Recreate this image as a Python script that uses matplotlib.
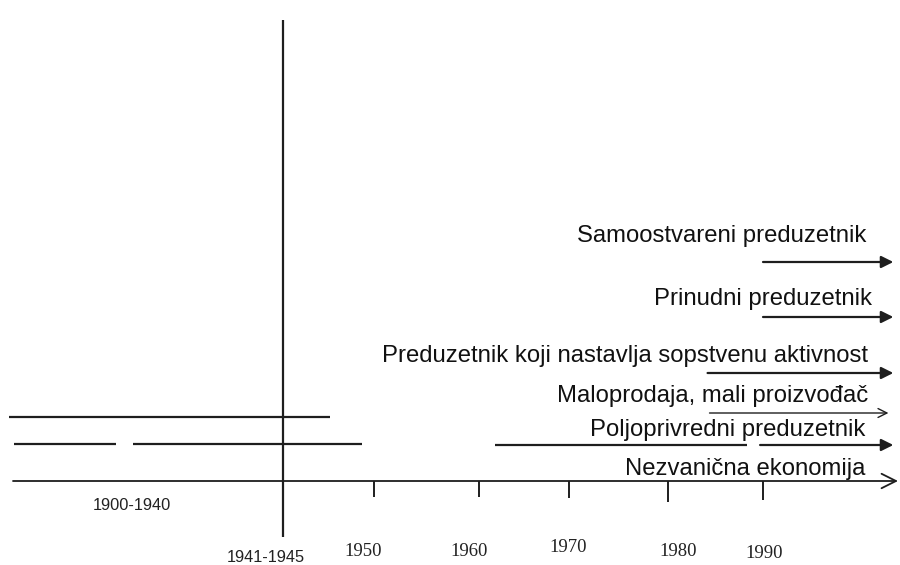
import matplotlib
matplotlib.use("Agg")
import matplotlib.pyplot as plt

# ---- data (timeline in years) ----
categories = ["Samoostvareni preduzetnik", "Prinudni preduzetnik",
              "Preduzetnik koji nastavlja sopstvenu aktivnost",
              "Maloprodaja, mali proizvođač", "Poljoprivredni preduzetnik",
              "Nezvanična ekonomija"]
arrow_start = [1990.0, 1990.0, 1984.3, 1984.5, 1962.4]
arrow_end = [2003.4, 2003.4, 2003.4, 2002.9, 2003.4]
polj_gap = [1988.4, 1989.7]
prewar_line1 = [1912.5, 1945.5]
prewar_line2 = [[1913.0, 1923.5], [1925.2, 1948.8]]
war_year = 1940.6
tick_years = [1950.0, 1960.8, 1970.0, 1980.2, 1990.0]
tick_labels = ["1950", "1960", "1970", "1980", "1990"]
period_labels = ["1900-1940", "1941-1945"]

# ---- layout ----
PX = 9.725  # pixels per year
def yr(px):
    return 1950 + (px - 374) / PX

fig = plt.figure(figsize=(9, 5.65), dpi=100)
ax = fig.add_axes([0, 0, 1, 1])
ax.set_xlim(yr(0), yr(900))
ax.set_ylim(565, 0)
ax.axis("off")

col = "#1e1e1e"
lw = 1.6
sans = ["Liberation Sans", "DejaVu Sans"]
serif = ["Liberation Serif", "DejaVu Serif"]

# main axis line with open arrow head
axis_y = 481
ax.annotate("", xy=(yr(898), axis_y), xytext=(yr(13), axis_y),
            arrowprops=dict(arrowstyle="->", color=col, lw=1.3,
                            mutation_scale=26, shrinkA=0, shrinkB=0))

# vertical war line
ax.plot([war_year, war_year], [20, 537], color=col, lw=lw, solid_capstyle="butt")

# ticks
tick_len = [16, 16, 17, 21, 19]
for t, L in zip(tick_years, tick_len):
    ax.plot([t, t], [axis_y, axis_y + L], color=col, lw=1.4, solid_capstyle="butt")

label_x = [363, 469, 568, 678, 764]
label_y = [551, 551, 547, 552, 553]
for lab, lx, ly in zip(tick_labels, label_x, label_y):
    ax.text(yr(lx), ly, lab, ha="center", va="center", fontsize=13.5,
            family=serif, color="#222222")

ax.text(yr(132), 505, period_labels[0], ha="center", va="center",
        fontsize=11.8, family=sans, color="#222222")
ax.text(yr(266), 557, period_labels[1], ha="center", va="center",
        fontsize=11.8, family=sans, color="#222222")

# pre-war lines
ax.plot(prewar_line1, [417, 417], color=col, lw=lw, solid_capstyle="butt")
for seg in prewar_line2:
    ax.plot(seg, [444, 444], color=col, lw=lw, solid_capstyle="butt")

# category arrows
arrow_rows = [262, 317, 373, 413, 445]
for i, (s, e, yrow) in enumerate(zip(arrow_start, arrow_end, arrow_rows)):
    if i == 3:
        ax.annotate("", xy=(e, yrow), xytext=(s, yrow),
                    arrowprops=dict(arrowstyle="->", color=col, lw=1.0,
                                    mutation_scale=16, shrinkA=0, shrinkB=0))
    elif i == 4:
        ax.plot([s, polj_gap[0]], [yrow, yrow], color=col, lw=lw, solid_capstyle="butt")
        ax.annotate("", xy=(e, yrow), xytext=(polj_gap[1], yrow),
                    arrowprops=dict(arrowstyle="-|>", color=col, lw=lw,
                                    mutation_scale=18, shrinkA=0, shrinkB=0))
    else:
        ax.annotate("", xy=(e, yrow), xytext=(s, yrow),
                    arrowprops=dict(arrowstyle="-|>", color=col, lw=lw,
                                    mutation_scale=18, shrinkA=0, shrinkB=0))

# category labels (right aligned, baseline positions)
text_right = [866, 872, 868, 868, 865, 865]
text_base = [242, 305, 362, 402, 436, 475]
for lab, rx, by in zip(categories, text_right, text_base):
    ax.text(yr(rx), by, lab, ha="right", va="baseline", fontsize=17.2,
            family=sans, color="#111111")

fig.savefig("out.png", dpi=100)
